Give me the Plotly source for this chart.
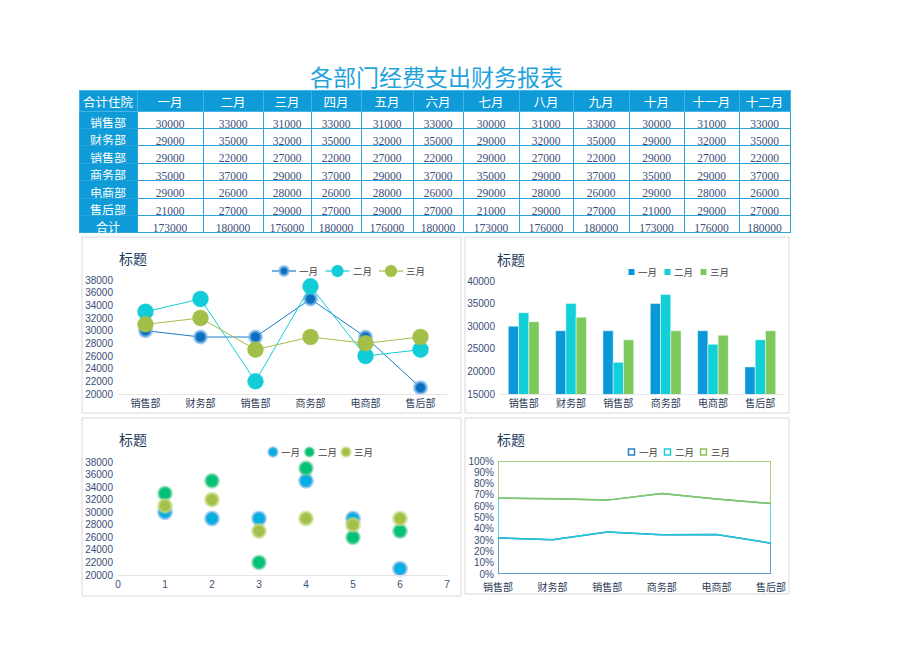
import plotly.graph_objects as go
import numpy as np

# ---------------- data ----------------
title_text = "各部门经费支出财务报表"
corner_label = "合计住院"
months = ["一月", "二月", "三月", "四月", "五月", "六月", "七月", "八月", "九月", "十月", "十一月", "十二月"]
departments = ["销售部", "财务部", "销售部", "商务部", "电商部", "售后部"]
total_label = "合计"

row_sales1 = [30000, 33000, 31000, 33000, 31000, 33000, 30000, 31000, 33000, 30000, 31000, 33000]
row_finance = [29000, 35000, 32000, 35000, 32000, 35000, 29000, 32000, 35000, 29000, 32000, 35000]
row_sales2 = [29000, 22000, 27000, 22000, 27000, 22000, 29000, 27000, 22000, 29000, 27000, 22000]
row_business = [35000, 37000, 29000, 37000, 29000, 37000, 35000, 29000, 37000, 35000, 29000, 37000]
row_ecommerce = [29000, 26000, 28000, 26000, 28000, 26000, 29000, 28000, 26000, 29000, 28000, 26000]
row_aftersales = [21000, 27000, 29000, 27000, 29000, 27000, 21000, 29000, 27000, 21000, 29000, 27000]

series_names = ["一月", "二月", "三月"]
jan = [30000, 29000, 29000, 35000, 29000, 21000]
feb = [33000, 35000, 22000, 37000, 26000, 27000]
mar = [31000, 32000, 27000, 29000, 28000, 29000]
chart_title = "标题"

# ---------------- helpers ----------------
W, H = 920, 651
OFF = 8  # page body margin offset
def X(px): return (px - OFF) / W
def Y(py): return 1 - (py - OFF) / H

rows = [row_sales1, row_finance, row_sales2, row_business, row_ecommerce, row_aftersales]
totals = list(np.sum(np.array(rows), axis=0))

BLUE = "#0e9bd7"
NUMFONT = "Liberation Serif"
CJK = "Noto Sans CJK SC"
SANS = "Liberation Sans, Noto Sans CJK SC"
TICKC = "#3b4e78"

fig = go.Figure()

# ---------------- table ----------------
col_values = [departments + [total_label]]
for j in range(len(months)):
    col_values.append([str(r[j]) for r in rows] + [str(totals[j])])
colw = [58, 66, 60, 48, 50, 52, 50, 56, 54, 56, 55, 55, 51]
fig.add_trace(go.Table(
    domain=dict(x=[X(79), X(790)], y=[Y(250), Y(90)]),
    columnwidth=colw,
    header=dict(values=[corner_label] + months, fill_color=BLUE,
                line=dict(color="#45b3e6", width=1), height=21, align="center",
                font=dict(family=CJK, size=12.5, color="white")),
    cells=dict(values=col_values,
               fill_color=[BLUE] + ["white"] * len(months),
               line=dict(color="#2aa3dd", width=1), height=17.4, align="center",
               font=dict(family=[CJK] + [NUMFONT] * len(months), size=[12] + [11.5] * len(months),
                         color=["white"] + ["#3d4f7a"] * len(months)))
))

xpos = list(range(len(departments)))

# ---------------- chart 1: line ----------------
line_cfg = [
    ("#0b6fbe", "#1a7cc8", 12, "rgba(120,180,232,0.65)", 3),
    ("#12cdd8", "#12cdd8", 16, "rgba(18,205,216,0.3)", 1),
    ("#a3bf4a", "#a3bf4a", 16, "rgba(163,191,74,0.3)", 1),
]
for name, vals, (mc, lc, ms, rc, rw) in zip(series_names, [jan, feb, mar], line_cfg):
    fig.add_trace(go.Scatter(x=xpos, y=vals, name=name, mode="lines+markers",
                             line=dict(color=lc, width=1),
                             marker=dict(color=mc, size=ms, line=dict(color=rc, width=rw)),
                             cliponaxis=False, xaxis="x", yaxis="y"))

# ---------------- chart 2: bars ----------------
bar_colors = ["#0a98d8", "#12cfd8", "#7dc95e"]
for name, vals, c in zip(series_names, [jan, feb, mar], bar_colors):
    fig.add_trace(go.Bar(x=xpos, y=vals, name=name,
                         marker=dict(color=c, line=dict(color="rgba(255,255,255,0.6)", width=0.8)),
                         xaxis="x2", yaxis="y2"))

# ---------------- chart 3: scatter ----------------
sc_cfg = [
    ("#00b0e0", "rgba(110,175,232,0.55)"),
    ("#00c07a", "rgba(90,205,140,0.5)"),
    ("#a5c04a", "rgba(195,218,130,0.6)"),
]
xs = [i + 1 for i in xpos]
for name, vals, (c, ring) in zip(series_names, [jan, feb, mar], sc_cfg):
    fig.add_trace(go.Scatter(x=xs, y=vals, name=name, mode="markers",
                             marker=dict(color=c, size=13, line=dict(color=ring, width=3)),
                             cliponaxis=False, xaxis="x3", yaxis="y3"))

# ---------------- chart 4: 100% stacked area (outlines) ----------------
stack = np.array([jan, feb, mar], dtype=float)
pct = stack / stack.sum(axis=0) * 100
cum = np.cumsum(pct, axis=0)
area_colors = ["#2e7fc4", "#1ec8d8", "#8cc45a"]
for i, (name, c) in enumerate(zip(series_names, area_colors)):
    upper = cum[i]
    lower = cum[i - 1] if i > 0 else np.zeros_like(upper)
    px_ = xpos + xpos[::-1] + [xpos[0]]
    py_ = list(upper) + list(lower[::-1]) + [upper[0]]
    fig.add_trace(go.Scatter(x=px_, y=py_, name=name, mode="lines", fill="toself",
                             fillcolor="rgba(255,255,255,0)",
                             line=dict(color=c, width=1.5),
                             xaxis="x4", yaxis="y4", hoverinfo="skip"))

# ---------------- axes ----------------
tickfont_y = dict(family=SANS, size=10, color=TICKC)
tickfont_x = dict(family=CJK, size=10, color="#2b3a55")
axis_common = dict(showgrid=False, zeroline=False, fixedrange=True, automargin=False)

fig.update_layout(
    xaxis=dict(domain=[X(118), X(448)], range=[-0.5, 5.5], tickvals=xpos, ticktext=departments,
               anchor="y", showline=True, linecolor="#e6e6e6", tickfont=tickfont_x, ticks="", **axis_common),
    yaxis=dict(domain=[Y(394), Y(280)], range=[20000, 38000], dtick=2000, tickformat="d", anchor="x",
               tickfont=tickfont_y, showline=False, ticklabelstandoff=4, **axis_common),
    xaxis2=dict(domain=[X(500), X(784)], range=[-0.5, 5.5], tickvals=xpos, ticktext=departments,
                anchor="y2", showline=True, linecolor="#e6e6e6", tickfont=tickfont_x, ticks="", **axis_common),
    yaxis2=dict(domain=[Y(394), Y(281)], range=[15000, 40000], dtick=5000, tickformat="d", anchor="x2",
                tickfont=tickfont_y, showline=False, ticklabelstandoff=4, **axis_common),
    xaxis3=dict(domain=[X(118), X(447)], range=[0, 7], dtick=1, anchor="y3",
                showline=True, linecolor="#e6e6e6", tickfont=tickfont_y, ticks="", **axis_common),
    yaxis3=dict(domain=[Y(575), Y(462)], range=[20000, 38000], dtick=2000, tickformat="d", anchor="x3",
                tickfont=tickfont_y, showline=False, ticklabelstandoff=4, **axis_common),
    xaxis4=dict(domain=[X(498), X(771)], range=[0, 5], tickvals=xpos, ticktext=departments,
                anchor="y4", showline=False, tickfont=tickfont_x, ticks="", ticklabelstandoff=6, **axis_common),
    yaxis4=dict(domain=[Y(574), Y(461)], range=[0, 100], dtick=10, ticksuffix="%", anchor="x4",
                tickfont=tickfont_y, showline=False, ticklabelstandoff=3, **axis_common),
    barmode="group", bargap=0.35, bargroupgap=0,
)

# ---------------- frames, titles, legends ----------------
shapes = []
for (x0, y0, x1, y1) in [(82, 237, 461, 413), (465, 237, 789, 413), (82, 418, 461, 596), (465, 418, 789, 594)]:
    shapes.append(dict(type="rect", xref="paper", yref="paper", x0=X(x0), x1=X(x1), y0=Y(y1), y1=Y(y0),
                       line=dict(color="#d9d9d9", width=1), fillcolor="rgba(0,0,0,0)", layer="below"))

annotations = [dict(text=title_text, x=X(436), y=Y(76), xref="paper", yref="paper", showarrow=False,
                    xanchor="center", yanchor="middle", font=dict(family=CJK, size=23, color="#1fa3dc"))]
for (ax, ay) in [(117, 258), (495, 259), (117, 439), (495, 439)]:
    annotations.append(dict(text=chart_title, x=X(ax), y=Y(ay), xref="paper", yref="paper", showarrow=False,
                            xanchor="left", yanchor="middle", font=dict(family=CJK, size=14, color="#1f3a60")))

legend_font = dict(family=CJK, size=9.5, color="#404040")
def legend_text(txt, x, y):
    annotations.append(dict(text=txt, x=X(x), y=Y(y), xref="paper", yref="paper", showarrow=False,
                            xanchor="left", yanchor="middle", font=legend_font))
def circle(cx, cy, r, fill, lc, lw):
    shapes.append(dict(type="circle", xref="paper", yref="paper", x0=X(cx - r), x1=X(cx + r),
                       y0=Y(cy + r), y1=Y(cy - r), fillcolor=fill, line=dict(color=lc, width=lw)))
def square(cx, cy, s, fill, lc, lw):
    shapes.append(dict(type="rect", xref="paper", yref="paper", x0=X(cx - s / 2), x1=X(cx + s / 2),
                       y0=Y(cy + s / 2), y1=Y(cy - s / 2), fillcolor=fill, line=dict(color=lc, width=lw)))

# legend 1 (line chart)
for i, (name, (mc, lc, ms, rc, rw)) in enumerate(zip(series_names, line_cfg)):
    cx, cy = 284 + 53.5 * i, 271
    shapes.append(dict(type="line", xref="paper", yref="paper", x0=X(cx - 12), x1=X(cx + 12),
                       y0=Y(cy), y1=Y(cy), line=dict(color=lc, width=1.2)))
    circle(cx, cy, ms / 2 - 1.5 if i == 0 else ms / 2 - 2, mc, rc, rw)
    legend_text(name, cx + 13, cy)
# legend 2 (bars)
for i, (name, c) in enumerate(zip(series_names, bar_colors)):
    cx, cy = 631.5 + 36 * i, 272
    square(cx, cy, 6, c, c, 0)
    legend_text(name, cx + 4, cy)
# legend 3 (scatter)
for i, (name, (c, ring)) in enumerate(zip(series_names, sc_cfg)):
    cx, cy = 273 + 36.5 * i, 452
    circle(cx, cy, 4.5, c, ring, 2.5)
    legend_text(name, cx + 6, cy)
# legend 4 (area)
for i, (name, c) in enumerate(zip(series_names, area_colors)):
    cx, cy = 631.5 + 36 * i, 452
    square(cx, cy, 6, "white", c, 1.5)
    legend_text(name, cx + 5, cy)

fig.update_layout(shapes=shapes, annotations=annotations)

fig.update_layout(width=W, height=H, margin=dict(l=0, r=0, t=0, b=0, pad=0, autoexpand=False),
                  paper_bgcolor="white", plot_bgcolor="white", showlegend=False,
                  hovermode=False)

fig.write_html("out.html")
